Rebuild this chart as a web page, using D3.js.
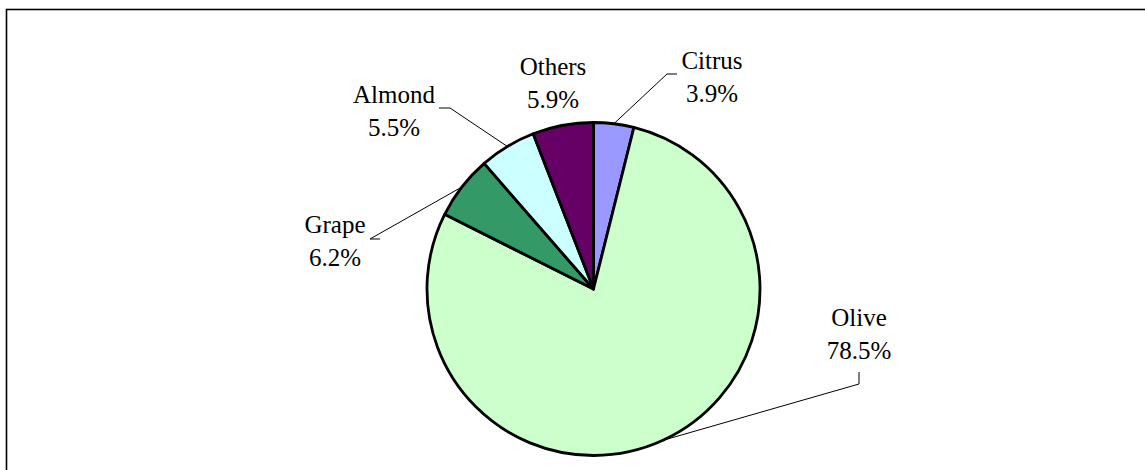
<!DOCTYPE html>
<html>
<head>
<meta charset="utf-8">
<script src="https://cdn.jsdelivr.net/npm/d3@7/dist/d3.min.js"></script>
<style>
  html, body { margin: 0; padding: 0; background: #fff; }
  svg { display: block; }
</style>
</head>
<body>
<svg id="chart" width="1145" height="470"></svg>
<script>
// ---- data ----
const categories = ["Citrus", "Olive", "Grape", "Almond", "Others"];
const shares = [3.9, 78.5, 6.2, 5.5, 5.9];
const colors = ["#9999FF", "#CCFFCC", "#339966", "#CCFFFF", "#660066"];

// ---- label layout (label centre x, first baseline y, leader elbow) ----
const labelLayout = [
  { x: 712, y: 69,  elbow: [[677, 74], [667, 74]] },
  { x: 859, y: 326, elbow: [[859, 372], [859, 384]] },
  { x: 335, y: 233, elbow: [[380, 239], [370, 239]] },
  { x: 394, y: 103, elbow: [[439, 108], [450, 108]] },
  { x: 553, y: 75,  elbow: null }
];

const W = 1145, H = 470;
const cx = 593.5, cy = 289, R = 166.5;
const svg = d3.select("#chart");

// frame
svg.append("rect")
  .attr("x", 6.5).attr("y", 9.5)
  .attr("width", W + 20).attr("height", H + 20)
  .attr("fill", "none").attr("stroke", "#000").attr("stroke-width", 1.6);

const data = categories.map((c, i) => ({ name: c, value: shares[i], color: colors[i], lay: labelLayout[i] }));

const pie = d3.pie().value(d => d.value).sort(null);
const arcs = pie(data);
const arc = d3.arc().innerRadius(0).outerRadius(R);
const edgeArc = d3.arc().innerRadius(R).outerRadius(R);

const g = svg.append("g").attr("transform", `translate(${cx},${cy})`);

g.selectAll("path.slice")
  .data(arcs)
  .join("path")
  .attr("class", "slice")
  .attr("d", arc)
  .attr("fill", d => d.data.color)
  .attr("stroke", "#000")
  .attr("stroke-width", 2.8)
  .attr("stroke-linejoin", "round");

// leader lines
arcs.forEach(a => {
  const lay = a.data.lay;
  if (!lay.elbow) return;
  const e = edgeArc.centroid(a);
  const pts = [lay.elbow[0], lay.elbow[1], [cx + e[0], cy + e[1]]];
  svg.append("path")
    .attr("d", d3.line()(pts))
    .attr("fill", "none")
    .attr("stroke", "#000")
    .attr("stroke-width", 1);
});

// labels
const fmt = d3.format(".1f");
arcs.forEach(a => {
  const lay = a.data.lay;
  [a.data.name, fmt(a.data.value) + "%"].forEach((s, k) => {
    svg.append("text")
      .attr("x", lay.x).attr("y", lay.y + k * 33)
      .attr("text-anchor", "middle")
      .attr("font-family", "Liberation Serif")
      .attr("font-size", 25)
      .attr("fill", "#000")
      .text(s);
  });
});
</script>
</body>
</html>
